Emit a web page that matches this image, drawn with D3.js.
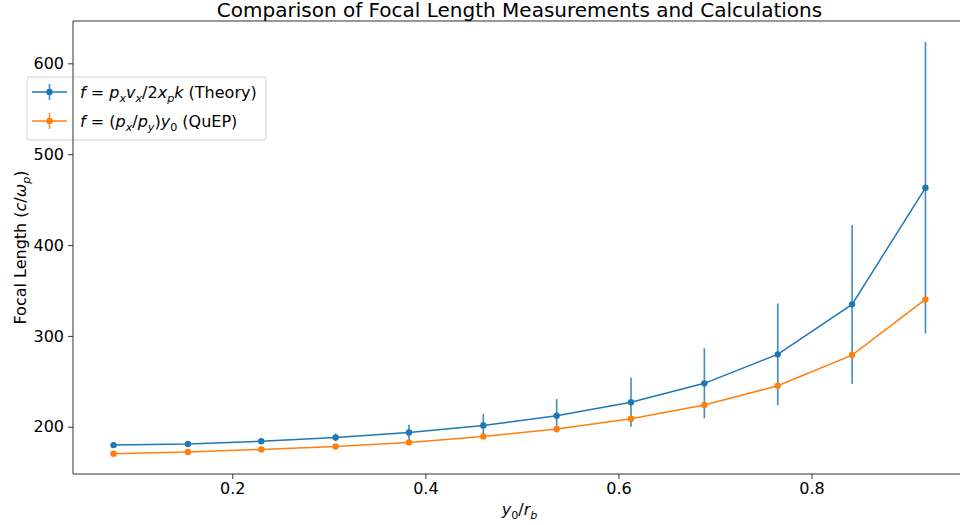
<!DOCTYPE html>
<html>
<head>
<meta charset="utf-8">
<script src="https://cdn.jsdelivr.net/npm/d3@7"></script>
<style>
  body { margin: 0; background: #fff; }
  svg { display: block; }
  text { font-family: "DejaVu Sans", sans-serif; fill: #000; }
</style>
</head>
<body>
<svg id="chart" width="960" height="525"></svg>
<script>
// y0 / r_b positions of the sampled rays
const ratio = [0.077, 0.154, 0.230, 0.307, 0.383, 0.460, 0.536, 0.613, 0.689, 0.765, 0.842, 0.918];
// Theory: f = p_x v_x / 2 x_p k, with uncertainty
const theory = [179.8, 181.0, 184.0, 188.3, 193.8, 201.5, 212.1, 226.9, 247.8, 279.7, 334.7, 463.0];
const theoryErr = [0.6, 1.0, 2.0, 4.3, 8.3, 12.8, 18.4, 27.0, 38.5, 56.0, 87.3, 160.4];
// QuEP: f = (p_x / p_y) y_0
const quep = [170.3, 172.2, 175.1, 178.4, 182.8, 189.4, 197.5, 208.8, 223.9, 245.1, 278.9, 340.2];
const quepErr = [0, 0, 0, 0, 0, 0, 0, 0, 0, 0, 0, 0];

const xTicks = [0.2, 0.4, 0.6, 0.8];
const yTicks = [200, 300, 400, 500, 600];

const BLUE = "#1f77b4", ORANGE = "#ff7f0e";

const svg = d3.select("#chart");
const plot = { left: 73, right: 966, top: 21, bottom: 474 };

const x = d3.scaleLinear().domain([0.035, 0.960]).range([plot.left, plot.right]);
const y = d3.scaleLinear().domain([148, 646.6]).range([plot.bottom, plot.top]);

// Rich text with italic variables and subscripts
function mathText(textSel, parts, fs) {
  let inSub = false;
  parts.forEach(p => {
    const ts = textSel.append("tspan").text(p.t);
    if (p.it) ts.attr("font-style", "italic");
    if (p.sub) {
      ts.attr("font-size", fs * 0.7);
      if (!inSub) ts.attr("dy", fs * 0.22);
      inSub = true;
    } else {
      ts.attr("font-size", fs);
      if (inSub) ts.attr("dy", -fs * 0.22);
      inSub = false;
    }
  });
  return textSel;
}

svg.append("clipPath").attr("id", "plotClip")
  .append("rect")
  .attr("x", plot.left).attr("y", plot.top)
  .attr("width", plot.right - plot.left).attr("height", plot.bottom - plot.top);

const g = svg.append("g").attr("clip-path", "url(#plotClip)");

function drawSeries(vals, errs, color) {
  const pts = ratio.map((r, i) => ({ r, v: vals[i], e: errs[i] }));
  g.append("g").selectAll("line").data(pts.filter(d => d.e > 0)).join("line")
    .attr("x1", d => x(d.r)).attr("x2", d => x(d.r))
    .attr("y1", d => y(d.v - d.e)).attr("y2", d => y(d.v + d.e))
    .attr("stroke", color).attr("stroke-width", 1.6).attr("stroke-opacity", 0.85);
  g.append("path").datum(pts)
    .attr("d", d3.line().x(d => x(d.r)).y(d => y(d.v)))
    .attr("fill", "none").attr("stroke", color).attr("stroke-width", 1.5);
  g.append("g").selectAll("circle").data(pts).join("circle")
    .attr("cx", d => x(d.r)).attr("cy", d => y(d.v)).attr("r", 3.2)
    .attr("fill", color);
}
drawSeries(theory, theoryErr, BLUE);
drawSeries(quep, quepErr, ORANGE);

// Axes
const xAxis = d3.axisBottom(x).tickValues(xTicks).tickFormat(d3.format(".1f")).tickSize(5).tickPadding(4);
const yAxis = d3.axisLeft(y).tickValues(yTicks).tickFormat(d3.format("d")).tickSize(5).tickPadding(4);

const gx = svg.append("g").attr("transform", `translate(0,${plot.bottom})`).call(xAxis);
const gy = svg.append("g").attr("transform", `translate(${plot.left},0)`).call(yAxis);
[gx, gy].forEach(a => {
  a.select(".domain").remove();
  a.selectAll(".tick line").attr("stroke", "#333");
  a.selectAll(".tick text").attr("font-size", 16).attr("font-family", "DejaVu Sans").attr("fill", "#000");
});

// Legend
const lg = svg.append("g");
lg.append("rect").attr("x", 27).attr("y", 77).attr("width", 239).attr("height", 63)
  .attr("rx", 3).attr("fill", "#fff").attr("fill-opacity", 0.8)
  .attr("stroke", "#d0d0d0").attr("stroke-width", 1);
const legendItems = [
  { color: BLUE, cy: 92, parts: [
    { t: "f", it: true }, { t: " = " }, { t: "p", it: true }, { t: "x", it: true, sub: true },
    { t: "v", it: true }, { t: "x", it: true, sub: true }, { t: "/2" }, { t: "x", it: true },
    { t: "p", it: true, sub: true }, { t: "k", it: true }, { t: " (Theory)" } ] },
  { color: ORANGE, cy: 121, parts: [
    { t: "f", it: true }, { t: " = (" }, { t: "p", it: true }, { t: "x", it: true, sub: true },
    { t: "/" }, { t: "p", it: true }, { t: "y", it: true, sub: true }, { t: ")" },
    { t: "y", it: true }, { t: "0", sub: true }, { t: " (QuEP)" } ] }
];
legendItems.forEach(it => {
  lg.append("line").attr("x1", 32).attr("x2", 67).attr("y1", it.cy).attr("y2", it.cy)
    .attr("stroke", it.color).attr("stroke-width", 1.5);
  lg.append("line").attr("x1", 49.5).attr("x2", 49.5).attr("y1", it.cy - 8).attr("y2", it.cy + 8)
    .attr("stroke", it.color).attr("stroke-width", 1.6).attr("stroke-opacity", 0.85);
  lg.append("circle").attr("cx", 49.5).attr("cy", it.cy).attr("r", 3.2).attr("fill", it.color);
  const t = lg.append("text").attr("x", 80).attr("y", it.cy + 6);
  mathText(t, it.parts, 16);
});

// Spines
svg.append("g").attr("stroke", "#333").attr("stroke-width", 1).selectAll("line")
  .data([
    [plot.left, plot.top, plot.left, plot.bottom],
    [plot.left, plot.bottom, plot.right, plot.bottom],
    [plot.left, plot.top, plot.right, plot.top],
    [plot.right, plot.top, plot.right, plot.bottom]
  ]).join("line")
  .attr("x1", d => d[0]).attr("y1", d => d[1]).attr("x2", d => d[2]).attr("y2", d => d[3]);

// Title and axis labels
svg.append("text").attr("x", (plot.left + plot.right) / 2).attr("y", 17)
  .attr("text-anchor", "middle").attr("font-size", 20)
  .text("Comparison of Focal Length Measurements and Calculations");

const xl = svg.append("text").attr("x", (plot.left + plot.right) / 2).attr("y", 515)
  .attr("text-anchor", "middle");
mathText(xl, [{ t: "y", it: true }, { t: "0", sub: true }, { t: "/" }, { t: "r", it: true }, { t: "b", it: true, sub: true }], 16);

const yl = svg.append("text")
  .attr("transform", `translate(26,${(plot.top + plot.bottom) / 2}) rotate(-90)`)
  .attr("text-anchor", "middle");
mathText(yl, [{ t: "Focal Length (" }, { t: "c", it: true }, { t: "/" }, { t: "ω", it: true },
  { t: "p", it: true, sub: true }, { t: ")" }], 16);
</script>
</body>
</html>
